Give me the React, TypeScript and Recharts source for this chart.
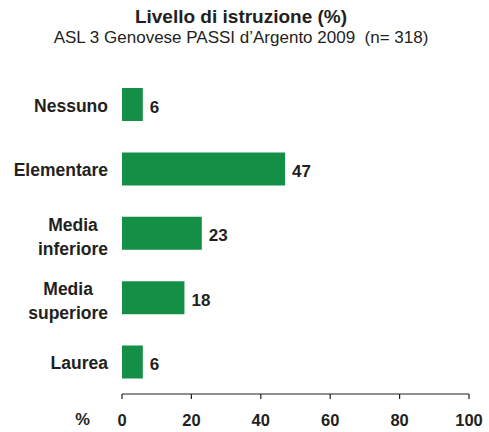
import { BarChart, Bar, XAxis, YAxis, LabelList } from 'recharts'

const categories = ['Nessuno', 'Elementare', 'Media\ninferiore', 'Media\nsuperiore', 'Laurea']
const values = [6, 47, 23, 18, 6]
const xTicks = [0, 20, 40, 60, 80, 100]

const data = categories.map((name, i) => ({ name, value: values[i] }))

const FONT = 'Liberation Sans, Arial, sans-serif'
const INK = '#231f20'
const GREEN = '#148f46'
const CAT_SIZE = 17.5

let ctx: CanvasRenderingContext2D | null = null
function textWidth(s: string) {
  if (!ctx) ctx = document.createElement('canvas').getContext('2d')
  if (!ctx) return s.length * 10
  ctx.font = `bold ${CAT_SIZE}px ${FONT}`
  return ctx.measureText(s).width
}

function CategoryTick({ x, y, payload }: any) {
  const lines = String(payload.value).split('\n')
  if (lines.length === 1) {
    return (
      <text x={x} y={y} dy="0.42em" textAnchor="end" fontFamily={FONT} fontWeight="bold" fontSize={CAT_SIZE} fill={INK}>
        {lines[0]}
      </text>
    )
  }
  const w = Math.max(...lines.map(textWidth))
  const cx = x - w / 2
  return (
    <text x={cx} y={y} textAnchor="middle" fontFamily={FONT} fontWeight="bold" fontSize={CAT_SIZE} fill={INK}>
      {lines.map((l, i) => (
        <tspan key={i} x={cx} dy={i === 0 ? -2.5 : 24}>{l}</tspan>
      ))}
    </text>
  )
}

export default function App() {
  return (
    <div style={{ position: 'absolute', left: 0, top: 0, width: 489, height: 432, background: '#fff' }}>
      <div style={{ position: 'absolute', left: 0, width: 482, top: 6, textAlign: 'center', fontFamily: FONT, color: INK }}>
        <div style={{ fontWeight: 'bold', fontSize: 19, lineHeight: '22px' }}>Livello di istruzione (%)</div>
        <div style={{ fontSize: 17, lineHeight: '20px' }}>ASL 3 Genovese PASSI d’Argento 2009&nbsp; (n= 318)</div>
      </div>
      <BarChart
        width={489}
        height={432}
        data={data}
        layout="vertical"
        margin={{ top: 72, right: 20, bottom: 8, left: 0 }}
      >
        <XAxis
          type="number"
          domain={[0, 100]}
          ticks={xTicks}
          interval={0}
          height={30}
          tickSize={5}
          tickMargin={15}
          axisLine={{ stroke: INK, strokeWidth: 1.2 }}
          tickLine={{ stroke: INK, strokeWidth: 1.2 }}
          tick={{ fill: INK, fontSize: 16.5, fontWeight: 'bold', fontFamily: FONT }}
          label={{ value: '%', position: 'left', offset: 32, dy: 10, fill: INK, fontSize: 16.5, fontWeight: 'bold', fontFamily: FONT }}
        />
        <YAxis
          type="category"
          dataKey="name"
          width={122}
          axisLine={false}
          tickLine={false}
          tickSize={0}
          tickMargin={14}
          interval={0}
          tick={<CategoryTick />}
        />
        <Bar dataKey="value" fill={GREEN} barSize={33} isAnimationActive={false}>
          <LabelList
            dataKey="value"
            position="right"
            offset={7}
            dy={2}
            fill={INK}
            fontSize={17}
            fontWeight="bold"
            fontFamily={FONT}
          />
        </Bar>
      </BarChart>
    </div>
  )
}
